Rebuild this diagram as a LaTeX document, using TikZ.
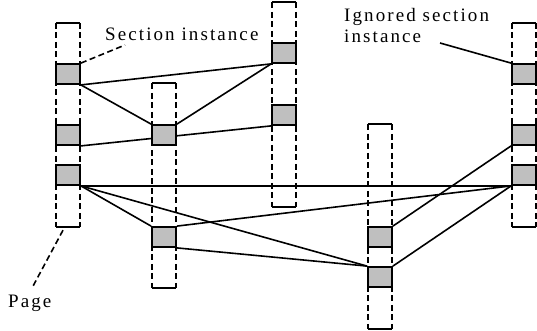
\documentclass[tikz,border=0pt]{standalone}
\usepackage{fontspec}
\setmainfont{Liberation Serif}[LetterSpace=11]
\pgfdeclarelayer{bg}
\pgfsetlayers{bg,main}
\begin{document}
\begin{tikzpicture}[x=1pt,y=-1pt,
  page/.style={minimum width=24pt,minimum height=204pt,inner sep=0pt},
  inst/.style={draw=black,fill=black!25,line width=1.8pt,minimum width=24pt,minimum height=20pt,inner sep=0pt},
  link/.style={black,line width=1.6pt},
  side/.style={black,line width=2pt,dash pattern=on 6pt off 3.5pt},
  lbl/.style={font=\fontsize{19}{21}\selectfont,inner sep=0pt}]
\useasboundingbox (0,0) rectangle (537,331);
\node[page] (p1) at (68,125) {};
\node[page] (p2) at (164,185.5) {};
\node[page] (p3) at (284,104.5) {};
\node[page] (p4) at (380,226.5) {};
\node[page] (p5) at (524,125) {};
\node[inst] (a1) at (68,74) {};
\node[inst] (a2) at (68,135) {};
\node[inst] (a3) at (68,175) {};
\node[inst] (b1) at (164,135) {};
\node[inst] (b2) at (164,237) {};
\node[inst] (c1) at (284,53) {};
\node[inst] (c2) at (284,115) {};
\node[inst] (d1) at (380,237) {};
\node[inst] (d2) at (380,277) {};
\node[inst] (e1) at (524,74) {};
\node[inst] (e2) at (524,135) {};
\node[inst] (e3) at (524,175) {};
\node[lbl,anchor=base west] (lsec) at (105,41) {Section instance};
\node[lbl,anchor=base west,align=left] (lign) at (344,43) {Ignored section\\instance};
\node[lbl,anchor=base west] (lpage) at (8,307) {Page};
\coordinate (secend) at (125,45);
\coordinate (ignend) at (440,43);
\coordinate (pgend) at (32,288);
\begin{pgfonlayer}{bg}
\foreach \p in {p1,p2,p3,p4,p5}{
  \draw[side] (\p.north west) -- (\p.south west) (\p.north east) -- (\p.south east);
  \draw[black,line width=2pt] (\p.north west) -- (\p.north east) (\p.south west) -- (\p.south east);
}
\draw[link] (a1.south east) -- (c1.south west);
\draw[link] (a1.south east) -- (b1.north west);
\draw[link] (b1.north east) -- (c1.south west);
\draw[link] (a2.south east) -- (c2.south west);
\draw[link] (a3.south east) -- (e3.south west);
\draw[link] (a3.south east) -- (b2.north west);
\draw[link] (a3.south east) -- (d2.north west);
\draw[link] (b2.north east) -- (e3.south west);
\draw[link] (b2.south east) -- (d2.north west);
\draw[link] (d1.north east) -- (e2.south west);
\draw[link] (d2.north east) -- (e3.south west);
\draw[link] (ignend) -- (e1.north west);
\draw[black,line width=1.6pt,dash pattern=on 6pt off 3.5pt] (a1.north east) -- (secend);
\draw[black,line width=1.6pt,dash pattern=on 6pt off 3.5pt] ([shift={(-5,3)}]p1.south) -- (pgend);
\end{pgfonlayer}
\end{tikzpicture}
\end{document}
